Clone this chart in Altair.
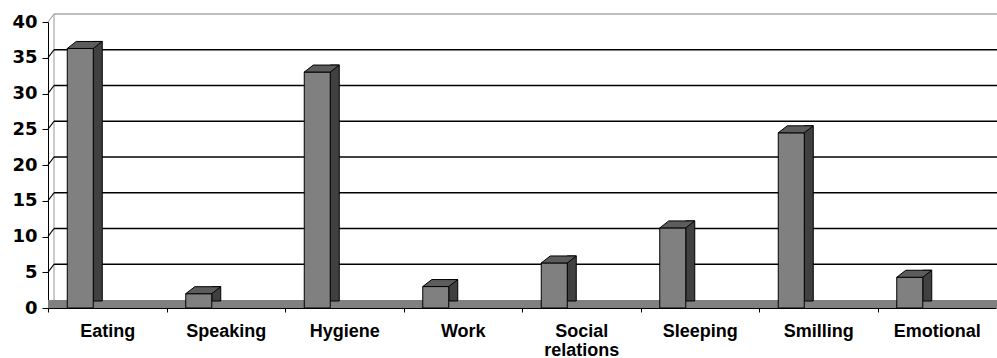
import altair as alt
import pandas as pd

# Survey categories and their counts
categories = ["Eating", "Speaking", "Hygiene", "Work",
              "Social relations", "Sleeping", "Smilling", "Emotional"]
values = [36.3, 2, 33, 3, 6.3, 11.2, 24.5, 4.3]
y_ticks = [0, 5, 10, 15, 20, 25, 30, 35, 40]

bars = pd.DataFrame({"category": categories, "value": values})
grid = pd.DataFrame({"t": y_ticks})
base_row = pd.DataFrame({"t": [0], "top": [40]})

W, H = 948, 286
DX, DY = 6, -8          # depth shift of the back wall

yscale = alt.Scale(domain=[0, 40], nice=False, zero=True)
xscale = alt.Scale(domain=categories, paddingInner=0, paddingOuter=0)

# one shared axis definition for every layer, so the merged axes agree
x_axis = alt.Axis(title=None, tickOffset=-W / 16, labelOffset=W / 16,
                  labelExpr="split(datum.label, ' ')",
                  labelFont="Liberation Sans", labelFontWeight="bold",
                  labelFontSize=18, labelColor="black", labelLineHeight=19,
                  labelPadding=10, tickSize=4, tickColor="black",
                  domainColor="black", labelAngle=0, grid=False)
y_axis = alt.Axis(title=None, values=y_ticks, grid=False, labelOverlap=False,
                  labelFont="DejaVu Sans", labelFontWeight="bold",
                  labelFontSize=18, labelColor="black", tickSize=6,
                  tickColor="black", domainColor="black", labelPadding=5)

Yt = alt.Y("t:Q", scale=yscale, axis=y_axis)
X = alt.X("category:N", sort=categories, scale=xscale, axis=x_axis)
Y = alt.Y("value:Q", scale=yscale, axis=y_axis)

# floor strip between front edge and back wall
floor = alt.Chart(base_row).mark_rect(color="#808080", y2Offset=DY).encode(
    x=alt.value(0), x2=alt.value(W + 1), y=Yt, y2="t:Q")

# back-wall left edge
wall_edge = alt.Chart(base_row).mark_rule(
    color="#a8a8a8", strokeWidth=1.2, xOffset=DX, yOffset=DY, y2Offset=DY
).encode(x=alt.value(0), y=Yt, y2="top:Q")

line_color = alt.condition(alt.datum.t == 40, alt.value("#a8a8a8"), alt.value("black"))

# horizontal gridlines on the back wall
hgrid = alt.Chart(grid).transform_filter(alt.datum.t > 0).mark_rule(
    strokeWidth=1.7, yOffset=DY
).encode(x=alt.value(DX), x2=alt.value(W + 1), y=Yt, color=line_color)

# short slanted lines on the side wall joining ticks to gridlines
sgrid = alt.Chart(grid).transform_filter(alt.datum.t > 0).mark_rule(
    strokeWidth=1.2, y2Offset=DY
).encode(x=alt.value(0), x2=alt.value(DX), y=Yt, y2="t:Q", color=line_color)

# right-hand depth face of each column
side = alt.Chart(bars).mark_bar(
    size=9, xOffset=-9.5, yOffset=-7, color="#404040",
    stroke="black", strokeWidth=1
).encode(x=X, y=Y)

# front face of each column
front = alt.Chart(bars).mark_bar(
    size=26, xOffset=-27, color="#808080", stroke="black", strokeWidth=1
).encode(x=X, y=Y)

# top face of each column
top = alt.Chart(bars).mark_point(
    shape="M -1 0 L -0.4857 -0.4 L 1 -0.4 L 0.4857 0 Z",
    size=1225, filled=True, fill="#5c5c5c", stroke="black",
    strokeWidth=1, opacity=1, xOffset=-22.5
).encode(x=X, y=Y)

chart = alt.layer(floor, wall_edge, hgrid, sgrid, side, front, top).properties(
    width=W, height=H,
    autosize=alt.AutoSizeParams(type="none"),
    padding={"left": 48, "top": 22, "right": 1, "bottom": 50},
    background="white",
).configure_view(stroke=None)

chart.save("out.html", embed_options={"renderer": "svg", "actions": False})
